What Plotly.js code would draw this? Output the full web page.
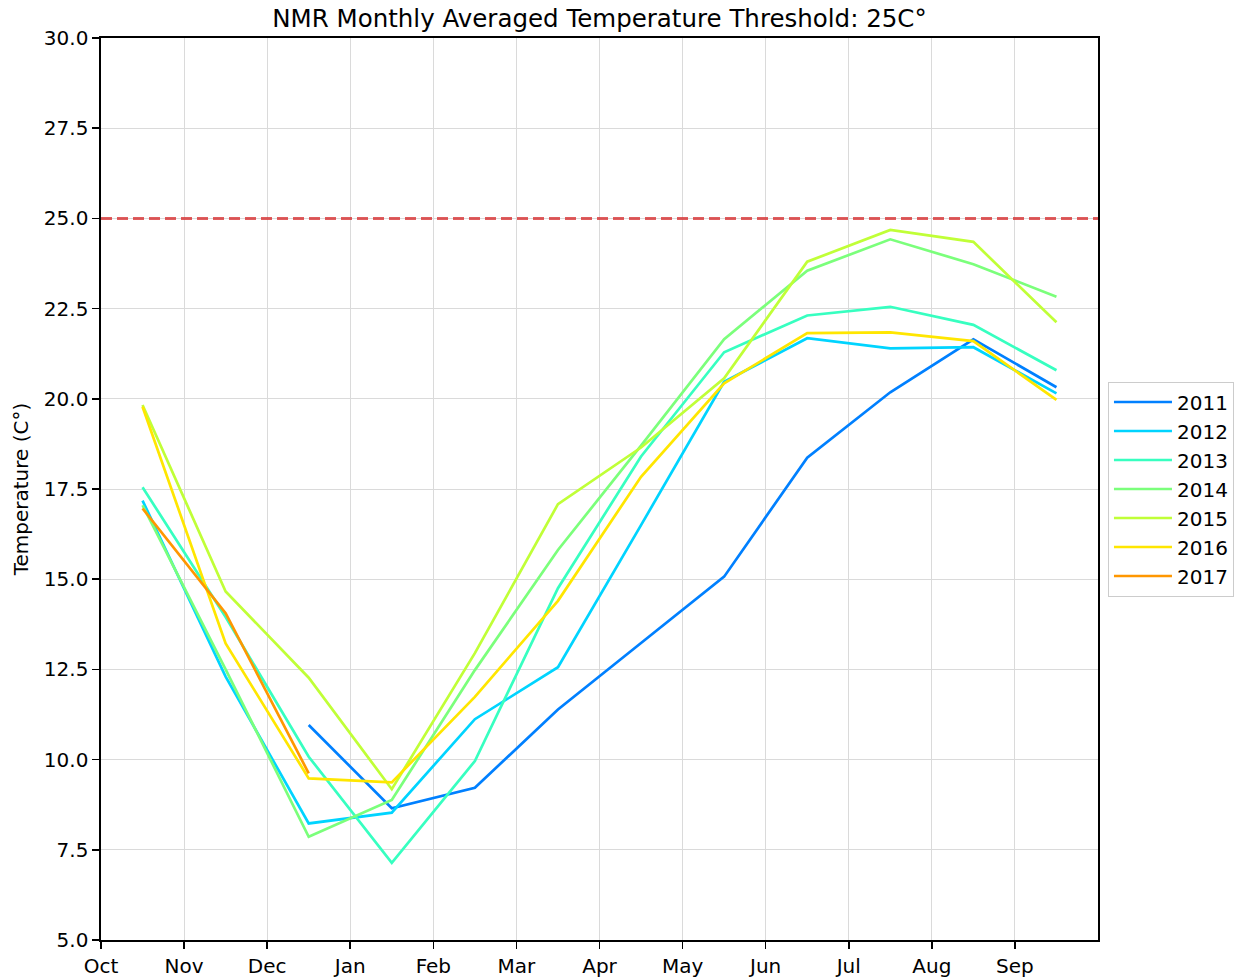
<!DOCTYPE html>
<html>
<head>
<meta charset="utf-8">
<script src="https://cdn.plot.ly/plotly-3.0.1.min.js"></script>
<style>html,body{margin:0;padding:0;background:#fff;}#chart{width:1236px;height:978px;}</style>
</head>
<body>
<div id="chart"></div>
<script>
// Month tick labels (ticks at month starts, points at mid-month)
const monthLabels = ["Oct","Nov","Dec","Jan","Feb","Mar","Apr","May","Jun","Jul","Aug","Sep"];
const monthTickPos = [0,1,2,3,4,5,6,7,8,9,10,11];
const pointPos = [0.5,1.5,2.5,3.5,4.5,5.5,6.5,7.5,8.5,9.5,10.5,11.5];

const years = ["2011","2012","2013","2014","2015","2016","2017"];
const t2011 = [null, null, 10.96, 8.65, 9.22, 11.39, 13.23, 15.07, 18.37, 20.18, 21.65, 20.32];
const t2012 = [17.18, 12.30, 8.23, 8.53, 11.12, 12.56, 16.50, 20.47, 21.68, 21.40, 21.43, 20.15];
const t2013 = [17.55, 13.95, 10.08, 7.14, 9.96, 14.75, 18.40, 21.29, 22.31, 22.55, 22.05, 20.79];
const t2014 = [17.05, 12.50, 7.86, 8.88, 12.48, 15.81, 18.70, 21.65, 23.55, 24.42, 23.73, 22.83];
const t2015 = [19.83, 14.66, 12.27, 9.18, 12.95, 17.08, 18.65, 20.57, 23.80, 24.68, 24.35, 22.12];
const t2016 = [19.78, 13.22, 9.48, 9.37, 11.74, 14.40, 17.84, 20.43, 21.82, 21.84, 21.60, 19.97];
const t2017 = [16.96, 14.06, 9.62];
const seriesValues = [t2011, t2012, t2013, t2014, t2015, t2016, t2017];
const colors = ["rgb(0,128,255)","rgb(0,212,255)","rgb(55,255,192)","rgb(123,255,123)","rgb(192,255,55)","rgb(255,230,0)","rgb(255,151,0)"];
const threshold = 25;

const font = "DejaVu Sans, Liberation Sans, sans-serif";

const traces = years.map((yr, i) => ({
  type: "scatter",
  mode: "lines",
  name: yr,
  x: pointPos.slice(0, seriesValues[i].length),
  y: seriesValues[i],
  line: {color: colors[i], width: 2.7},
  connectgaps: false
}));

const layout = {
  width: 1236,
  height: 978,
  paper_bgcolor: "#ffffff",
  plot_bgcolor: "#ffffff",
  margin: {l: 101, r: 138, t: 38, b: 38, autoexpand: false},
  font: {family: font, size: 20, color: "#000"},
  title: {
    text: "NMR Monthly Averaged Temperature Threshold: 25C°",
    font: {family: font, size: 24.5, color: "#000"},
    x: 0.5, xref: "paper", xanchor: "center",
    y: 1 - 18/978, yref: "container", yanchor: "middle"
  },
  xaxis: {
    range: [0, 12],
    tickmode: "array",
    tickvals: monthTickPos,
    ticktext: monthLabels,
    showgrid: true,
    gridcolor: "#dadada",
    gridwidth: 1,
    zeroline: false,
    showline: true,
    linecolor: "#000",
    linewidth: 1.6,
    mirror: true,
    ticks: "outside",
    ticklen: 7,
    tickwidth: 1.6,
    tickcolor: "#000",
    tickfont: {family: font, size: 20, color: "#000"}
  },
  yaxis: {
    range: [5, 30],
    dtick: 2.5,
    tick0: 5,
    tickformat: ".1f",
    showgrid: true,
    gridcolor: "#dadada",
    gridwidth: 1,
    zeroline: false,
    showline: true,
    linecolor: "#000",
    linewidth: 1.6,
    mirror: true,
    ticks: "outside",
    ticklen: 7,
    tickwidth: 1.6,
    tickcolor: "#000",
    tickfont: {family: font, size: 20, color: "#000"},
    title: {text: "Temperature (C°)", font: {family: font, size: 20, color: "#000"}, standoff: 10}
  },
  shapes: [{
    type: "line", xref: "paper", x0: 0, x1: 1, yref: "y", y0: threshold, y1: threshold,
    line: {color: "rgba(214,39,40,0.75)", width: 3, dash: "11px,5px"},
    layer: "above"
  }],
  legend: {
    x: 1.01, xanchor: "left", y: 0.5, yanchor: "middle",
    bgcolor: "#ffffff",
    bordercolor: "#cccccc",
    borderwidth: 1,
    itemwidth: 58,
    font: {family: font, size: 20, color: "#000"},
    tracegroupgap: 0
  },
  showlegend: true
};

Plotly.newPlot("chart", traces, layout, {displayModeBar: false, staticPlot: true});
</script>
</body>
</html>
